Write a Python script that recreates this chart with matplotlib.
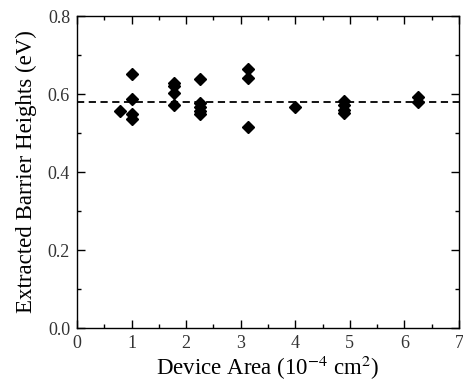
import matplotlib.pyplot as plt
from matplotlib.ticker import MultipleLocator

# device areas (1e-4 cm^2) and extracted barrier heights (eV)
area = [0.785,
        1.0, 1.0, 1.0, 1.0,
        1.77, 1.77, 1.77, 1.77,
        2.25, 2.25, 2.25, 2.25, 2.25,
        3.14, 3.14, 3.14,
        4.0,
        4.9, 4.9, 4.9, 4.9,
        6.25, 6.25]
height = [0.556,
          0.651, 0.587, 0.550, 0.536,
          0.628, 0.620, 0.603, 0.572,
          0.638, 0.577, 0.567, 0.556, 0.549,
          0.664, 0.641, 0.515,
          0.567,
          0.582, 0.572, 0.560, 0.551,
          0.593, 0.580]
mean_height = 0.58

plt.rcParams['font.family'] = ['Liberation Serif', 'DejaVu Serif']
plt.rcParams['mathtext.fontset'] = 'stix'

fig = plt.figure(figsize=(4.64, 3.81), dpi=100)
ax = fig.add_axes([0.166, 0.139, 0.823, 0.819])

ax.plot(area, height, linestyle='none', marker='D', markersize=6.5,
        color='black')
ax.axhline(mean_height, color='black', linestyle=(0, (4, 2.5)), linewidth=1.3)

ax.set_xlim(0, 7)
ax.set_ylim(0, 0.8)
ax.xaxis.set_major_locator(MultipleLocator(1))
ax.xaxis.set_minor_locator(MultipleLocator(0.5))
ax.yaxis.set_major_locator(MultipleLocator(0.2))
ax.yaxis.set_minor_locator(MultipleLocator(0.1))
ax.yaxis.set_major_formatter(lambda v, pos: f"{v:.1f}")
ax.tick_params(which='both', direction='in', top=True, right=True,
               labelsize=13, width=1, colors='black')
ax.tick_params(axis='x', labelcolor='#333333', pad=5)
ax.tick_params(axis='y', labelcolor='#333333', pad=5)
ax.tick_params(which='major', length=6)
ax.tick_params(which='minor', length=3)
for s in ax.spines.values():
    s.set_linewidth(1)

ax.set_xlabel(r"Device Area (10$^{\mathrm{-4}}$ cm$^{\mathrm{2}}$)",
              fontsize=16.5, labelpad=1)
ax.set_ylabel("Extracted Barrier Heights (eV)", fontsize=16.5, labelpad=8)

fig.savefig("out.png", dpi=100)
